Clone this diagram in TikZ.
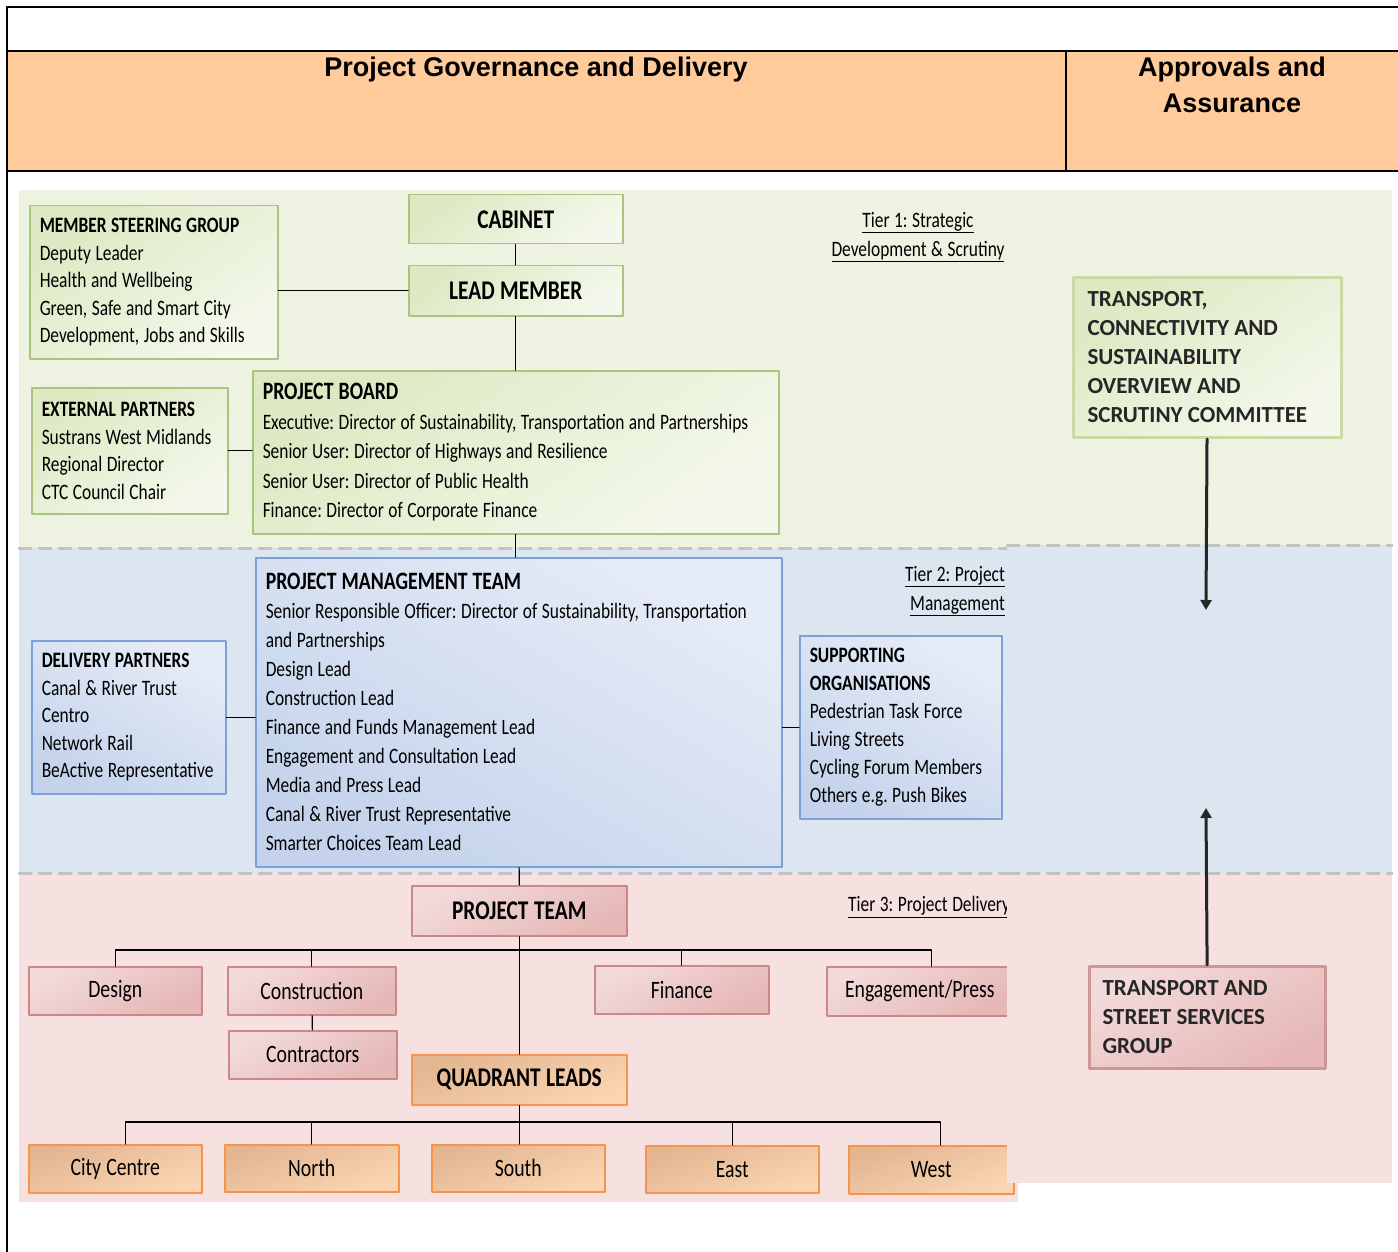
\documentclass[tikz,border=0pt]{standalone}
\usepackage{fontspec}
\setmainfont{Carlito}[FakeStretch=0.79, WordSpace=1.15]
\newfontfamily\hdfont{Liberation Sans}
\newfontfamily\cmfont{Carlito}
\usetikzlibrary{arrows.meta}
\frenchspacing
\hyphenpenalty=10000
\exhyphenpenalty=10000
\definecolor{hdorange}{HTML}{FFCB9A}
\definecolor{bandgreen}{HTML}{EEF3E1}
\definecolor{bandblue}{HTML}{DCE6F1}
\definecolor{bandpink}{HTML}{F6E0E0}
\definecolor{sepgray}{HTML}{C2C2C2}
\definecolor{gline}{HTML}{A9C47E}
\definecolor{gfillA}{HTML}{DCE9C2}
\definecolor{gfillB}{HTML}{F4F8EC}
\definecolor{bline}{HTML}{7DA1D4}
\definecolor{bfillA}{HTML}{E6ECF7}
\definecolor{bfillB}{HTML}{C4D3EB}
\definecolor{pline}{HTML}{CC8886}
\definecolor{pfillA}{HTML}{F3DADA}
\definecolor{pfillB}{HTML}{E5B7B6}
\definecolor{oline}{HTML}{F5944A}
\definecolor{ofillA}{HTML}{E3B591}
\definecolor{ofillB}{HTML}{FBD5B2}
\definecolor{cmgline}{HTML}{C8DAA6}
\definecolor{cmpline}{HTML}{CD9796}
\definecolor{cmtext}{HTML}{262626}
\begin{document}
\begin{tikzpicture}[x=1pt, y=-1pt, line cap=round, line join=round,
  listbox/.style={anchor=north west, inner xsep=10pt, inner ysep=0pt, align=flush left,
    font=\fontsize{22}{27.5}\selectfont},
  onebox/.style={anchor=north west, inner sep=0pt, align=center,
    font=\fontsize{25}{30}\selectfont},
  headbox/.style={onebox, font=\fontsize{27}{30}\selectfont\bfseries},
  gbox/.style={draw=gline, line width=1.5pt, shading=axis, top color=gfillA, bottom color=gfillB, shading angle=35},
  bbox/.style={draw=bline, line width=1.5pt, shading=axis, top color=bfillA, bottom color=bfillB, shading angle=-30},
  pbox/.style={draw=pline, line width=1.5pt, shading=axis, top color=pfillA, bottom color=pfillB, shading angle=30},
  obox/.style={draw=oline, line width=1.5pt, shading=axis, top color=ofillA, bottom color=ofillB, shading angle=20},
  cmbox/.style={anchor=north west, inner xsep=14pt, inner ysep=0pt, align=flush left, text=cmtext,
    font=\cmfont\bfseries\fontsize{23}{29}\selectfont},
  tier/.style={inner sep=0pt, font=\fontsize{22}{29}\selectfont},
  link/.style={draw=black, line width=1.2pt},
  sepline/.style={draw=sepgray, line width=3pt, dash pattern=on 12pt off 8pt},
  apparrow/.style={draw=cmtext, line width=3pt, -{Triangle[length=10pt, width=11pt]}}]
  \useasboundingbox (0,0) rectangle (1398,1252);

  % frame and header
  \fill[hdorange] (7,51) rectangle (1398,171);
  \draw[line width=1.5pt] (1398,7) -- (7,7) -- (7,1252);
  \draw[line width=2.5pt] (7,51) -- (1398,51);
  \draw[line width=2.5pt] (7,171) -- (1398,171);
  \draw[line width=1.5pt] (1066,51) -- (1066,171);
  \node[anchor=base, inner sep=0pt, font=\hdfont\bfseries\fontsize{27}{36}\selectfont]
    (govhead) at (536,77) {Project Governance and Delivery};
  \node[anchor=north, inner sep=0pt, align=center, font=\hdfont\bfseries\fontsize{27}{36}\selectfont]
    (apphead) at (1232,57) {Approvals and\\Assurance};

  % tier bands (delivery side)
  \fill[bandgreen] (19,190) rectangle (1018,548);
  \fill[bandblue] (19,548) rectangle (1018,873);
  \fill[bandpink] (19,873) rectangle (1018,1202);
  \draw[sepline] (19,548) -- (1007,548);
  \draw[sepline] (19,873) -- (1007,873);

  % tier 1
  \node[listbox, gbox, text width=228pt, minimum height=153pt] (msg) at (29,205)
    {{\bfseries MEMBER STEERING GROUP}\\Deputy Leader\\Health and Wellbeing\\Green, Safe and Smart City\\Development, Jobs and Skills};
  \node[headbox, gbox, minimum width=214pt, minimum height=49pt] (cab) at (408,194) {CABINET};
  \node[headbox, gbox, minimum width=214pt, minimum height=50pt] (lead) at (408,265) {LEAD MEMBER};
  \node[listbox, gbox, text width=176pt, minimum height=126pt] (ext) at (31,387)
    {{\bfseries EXTERNAL PARTNERS}\\Sustrans West Midlands\\Regional Director\\CTC Council Chair};
  \node[listbox, gbox, text width=506pt, minimum height=163pt, font=\fontsize{22}{29.5}\selectfont] (pb) at (252,370)
    {{\bfseries\fontsize{25}{29.5}\selectfont PROJECT BOARD}\\
     Executive: Director of Sustainability, Transportation and Partnerships\\
     Senior User: Director of Highways and Resilience\\
     Senior User: Director of Public Health\\
     Finance: Director of Corporate Finance};
  \node[tier, align=center] (tier1) at (918,237)
    {\underline{Tier 1: Strategic}\\\underline{Development \& Scrutiny}};

  % tier 2
  \node[listbox, bbox, text width=506pt, minimum height=309pt, font=\fontsize{22}{29}\selectfont] (pmt) at (255,557)
    {{\bfseries\fontsize{25}{29}\selectfont PROJECT MANAGEMENT TEAM}\\
     Senior Responsible Officer: Director of Sustainability, Transportation\\
     and Partnerships\\Design Lead\\Construction Lead\\Finance and Funds Management Lead\\
     Engagement and Consultation Lead\\Media and Press Lead\\
     Canal \& River Trust Representative\\Smarter Choices Team Lead};
  \node[listbox, bbox, text width=174pt, minimum height=153pt] (dlv) at (31,640)
    {{\bfseries DELIVERY PARTNERS}\\Canal \& River Trust\\Centro\\Network Rail\\BeActive Representative};
  \node[listbox, bbox, text width=182pt, minimum height=183pt, font=\fontsize{22}{28}\selectfont] (sup) at (799,635)
    {{\bfseries SUPPORTING}\\{\bfseries ORGANISATIONS}\\Pedestrian Task Force\\Living Streets\\Cycling Forum Members\\Others e.g. Push Bikes};
  \node[tier, align=right, anchor=east] (tier2) at (1005,591)
    {\underline{Tier 2: Project}\\\underline{Management}};

  % tier 3
  \node[headbox, pbox, minimum width=215pt, minimum height=50pt] (team) at (411,885) {PROJECT TEAM};
  \node[tier, anchor=west] (tier3) at (848,907) {\underline{Tier 3: Project Delivery}};
  \node[onebox, pbox, minimum width=173pt, minimum height=48pt] (design) at (28,966) {Design};
  \node[onebox, pbox, minimum width=168pt, minimum height=48pt] (constr) at (227,966) {Construction};
  \node[onebox, pbox, minimum width=168pt, minimum height=48pt] (contr) at (228,1030) {Contractors};
  \node[onebox, pbox, minimum width=174pt, minimum height=48pt] (fin) at (594,965) {Finance};
  \node[onebox, pbox, minimum width=186pt, minimum height=49pt] (eng) at (826,966) {Engagement/Press};
  \node[headbox, obox, minimum width=215pt, minimum height=50pt] (quad) at (411,1054) {QUADRANT LEADS};
  \node[onebox, obox, minimum width=173pt, minimum height=48pt] (city) at (28,1144) {City Centre};
  \node[onebox, obox, minimum width=174pt, minimum height=47pt] (north) at (224,1144) {North};
  \node[onebox, obox, minimum width=173pt, minimum height=47pt] (south) at (431,1144) {South};
  \node[onebox, obox, minimum width=173pt, minimum height=47pt] (east) at (645,1145) {East};
  \node[onebox, obox, minimum width=165pt, minimum height=48pt] (west) at (848,1145) {West};

  % connectors
  \draw[link] (cab) -- (lead);
  \draw[link] (lead) -- (pb);
  \draw[link] (lead.west) -- (lead.west -| msg.east);
  \draw[link] (ext) -- (ext -| pb.west);
  \draw[link] (pb.south) -- (pb.south |- pmt.north);
  \draw[link] (dlv) -- (dlv -| pmt.west);
  \draw[link] (sup) -- (sup -| pmt.east);
  \draw[link] (pmt) -- (team);
  \draw[link] (team) -- (quad);
  \draw[link] (quad.south) -- (quad.south |- south.north);
  \draw[link] (design.north) -- ++(0,-16) -| ([xshift=12pt]eng.north);
  \draw[link] (constr.north) -- ++(0,-16);
  \draw[link] (fin.north) -- ++(0,-15);
  \draw[link] (constr) -- (contr);
  \draw[link] ([xshift=10pt]city.north) -- ++(0,-22) -| ([xshift=9pt]west.north);
  \draw[link] (north.north) -- ++(0,-22);
  \draw[link] (east.north) -- ++(0,-23);

  % approvals column
  \fill[bandgreen] (1007,190) rectangle (1392,545);
  \fill[bandblue] (1007,545) rectangle (1392,873);
  \fill[bandpink] (1007,873) rectangle (1392,1183);
  \draw[sepline] (1007,545) -- (1392,545);
  \draw[sepline] (1007,873) -- (1392,873);
  \node[cmbox, gbox, draw=cmgline, line width=3pt, text width=240pt, minimum height=160pt] (tcsc) at (1072,276)
    {TRANSPORT,\\CONNECTIVITY AND\\SUSTAINABILITY\\OVERVIEW AND\\SCRUTINY COMMITTEE};
  \node[cmbox, pbox, draw=cmpline, line width=3pt, inner xsep=13pt, text width=210pt, minimum height=102pt] (tssg) at (1088,965)
    {TRANSPORT AND\\STREET SERVICES\\GROUP};
  \coordinate (tcscend) at (1206,610);
  \coordinate (tssgend) at (1206,808);
  \draw[apparrow] (tcsc) -- (tcscend);
  \draw[apparrow] (tssg) -- (tssgend);
\end{tikzpicture}
\end{document}
